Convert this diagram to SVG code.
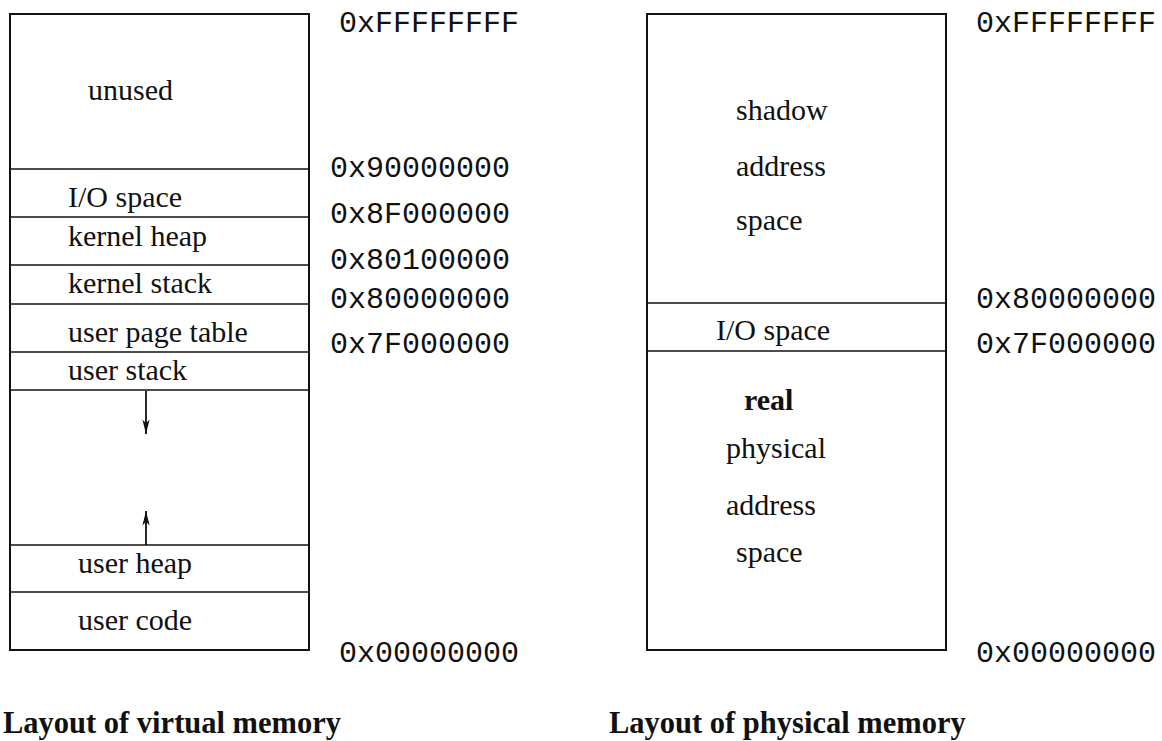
<svg xmlns="http://www.w3.org/2000/svg" width="1162" height="741" viewBox="0 0 1162 741">
<style>
.box{fill:none;stroke:#111;stroke-width:2}
.div{stroke:#111;stroke-width:1.6}
.lbl{font-family:"Liberation Serif","Times New Roman",serif;font-size:30px;fill:#111}
.bold{font-weight:bold}
.hex{font-family:"Liberation Mono","Courier New",monospace;font-size:30px;fill:#111}
.cap{font-family:"Liberation Serif","Times New Roman",serif;font-size:30.5px;font-weight:bold;fill:#111}
.arr{stroke:#111;stroke-width:1.8;fill:none}
</style>
<defs>
<marker id="ah" viewBox="0 0 16 10" refX="16" refY="5" markerWidth="16" markerHeight="9" markerUnits="userSpaceOnUse" orient="auto">
<path d="M0,1 L16,5 L0,9 L4,5 Z" fill="#111"/>
</marker>
</defs>
<rect width="1162" height="741" fill="#fff"/>

<g id="virtual-memory">
<rect class="box" x="10" y="14" width="299" height="636"/>
<g id="v-unused"><text class="lbl" x="88" y="100">unused</text></g>
<g id="v-io"><line class="div" x1="10" y1="169" x2="309" y2="169"/><text class="lbl" x="68" y="207">I/O space</text></g>
<g id="v-kheap"><line class="div" x1="10" y1="217" x2="309" y2="217"/><text class="lbl" x="68" y="246">kernel heap</text></g>
<g id="v-kstack"><line class="div" x1="10" y1="265" x2="309" y2="265"/><text class="lbl" x="68" y="293">kernel stack</text></g>
<g id="v-upt"><line class="div" x1="10" y1="304" x2="309" y2="304"/><text class="lbl" x="68" y="342">user page table</text></g>
<g id="v-ustack"><line class="div" x1="10" y1="352" x2="309" y2="352"/><text class="lbl" x="68" y="380">user stack</text></g>
<g id="v-free"><line class="div" x1="10" y1="390" x2="309" y2="390"/></g>
<g id="v-uheap"><line class="div" x1="10" y1="545" x2="309" y2="545"/><text class="lbl" x="78" y="573">user heap</text></g>
<g id="v-ucode"><line class="div" x1="10" y1="592" x2="309" y2="592"/><text class="lbl" x="78" y="630">user code</text></g>
</g>

<g id="virtual-addresses">
<text class="hex" x="339" y="32">0xFFFFFFFF</text>
<text class="hex" x="330" y="177">0x90000000</text>
<text class="hex" x="330" y="223">0x8F000000</text>
<text class="hex" x="330" y="269">0x80100000</text>
<text class="hex" x="330" y="308">0x80000000</text>
<text class="hex" x="330" y="353">0x7F000000</text>
<text class="hex" x="339" y="662">0x00000000</text>
</g>

<g id="physical-memory">
<rect class="box" x="647" y="14" width="299" height="636"/>
<g id="p-shadow">
<text class="lbl" x="736" y="120">shadow</text>
<text class="lbl" x="736" y="176">address</text>
<text class="lbl" x="736" y="230">space</text>
</g>
<g id="p-io"><line class="div" x1="647" y1="303" x2="946" y2="303"/><text class="lbl" x="716" y="340">I/O space</text></g>
<g id="p-real"><line class="div" x1="647" y1="351" x2="946" y2="351"/>
<text class="lbl bold" x="744" y="410">real</text>
<text class="lbl" x="726" y="458">physical</text>
<text class="lbl" x="726" y="515">address</text>
<text class="lbl" x="736" y="562">space</text>
</g>
</g>

<g id="physical-addresses">
<text class="hex" x="976" y="32">0xFFFFFFFF</text>
<text class="hex" x="976" y="308">0x80000000</text>
<text class="hex" x="976" y="353">0x7F000000</text>
<text class="hex" x="976" y="662">0x00000000</text>
</g>

<g id="connectors">
<line class="arr" x1="146" y1="391" x2="146" y2="434" marker-end="url(#ah)"/>
<line class="arr" x1="146" y1="545" x2="146" y2="511" marker-end="url(#ah)" stroke-width="1.3"/>
</g>

<g id="captions">
<text class="cap" x="3" y="733">Layout of virtual memory</text>
<text class="cap" x="609" y="733">Layout of physical memory</text>
</g>
</svg>
